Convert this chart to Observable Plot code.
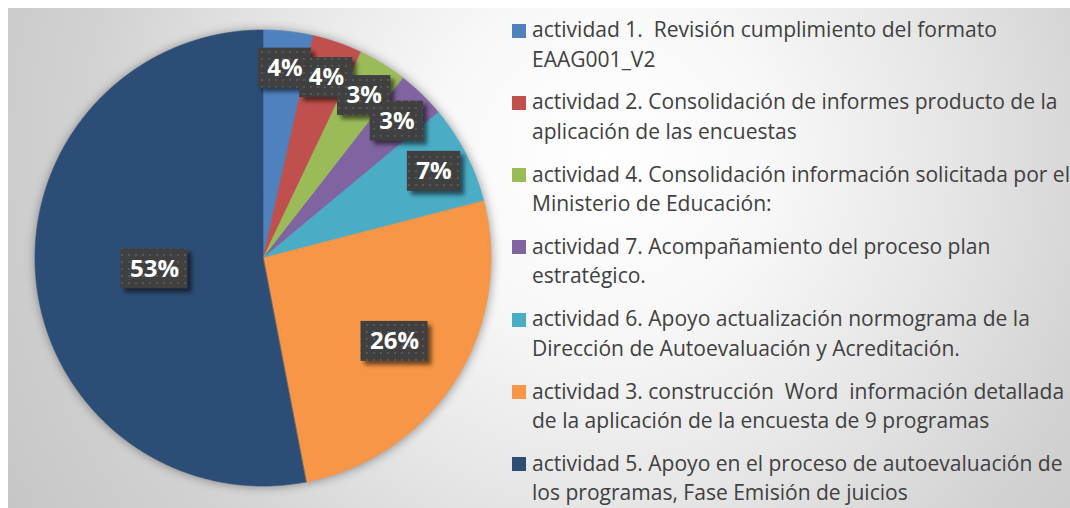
<!DOCTYPE html>
<html>
<head>
<meta charset="utf-8">
<script src="https://cdn.jsdelivr.net/npm/d3@7"></script>
<script src="https://cdn.jsdelivr.net/npm/@observablehq/plot@0.6"></script>
<style>
  html, body { margin: 0; padding: 0; background: #ffffff; }
  body { position: relative; width: 1070px; height: 508px; overflow: hidden; }
  #frame {
    position: absolute; left: 8px; top: 8px; width: 1062px; height: 500px;
    background: radial-gradient(circle farthest-corner at 56% 30%, #ffffff 0%, #f8f8f8 24%, #e6e6e6 50%, #d2d2d2 75%, #c6c6c6 100%);
  }
  #chart { position: absolute; left: 0; top: 0; }
  #chart svg { overflow: visible; }
  #legend { position: absolute; left: 0; top: 0; font-family: "Open Sans", sans-serif; color: #404040; }
  .entry { position: absolute; left: 532px; white-space: pre; }
  .swatch { position: absolute; left: 512px; width: 14px; height: 14px; }
</style>
</head>
<body>
<div id="frame"></div>
<div id="chart"></div>
<div id="legend"></div>
<script>
// ---- data ----
const categories = [
  "actividad 1.  Revisión cumplimiento del formato\nEAAG001_V2",
  "actividad 2. Consolidación de informes producto de la\naplicación de las encuestas",
  "actividad 4. Consolidación información solicitada por el\nMinisterio de Educación:",
  "actividad 7. Acompañamiento del proceso plan\nestratégico.",
  "actividad 6. Apoyo actualización normograma de la\nDirección de Autoevaluación y Acreditación.",
  "actividad 3. construcción  Word  información detallada\nde la aplicación de la encuesta de 9 programas",
  "actividad 5. Apoyo en el proceso de autoevaluación de\nlos programas, Fase Emisión de juicios"
];
const values = [3.56, 3.52, 3.46, 3.44, 7.0, 26.0, 53.02];
const colors = ["#4F81BD", "#C0504D", "#9BBB59", "#8064A2", "#4BACC6", "#F79646", "#2C4D75"];

// ---- geometry (pie center 263,258; radius 228 px) ----
const R = 228, CX = 263, CY = 258;
const total = d3.sum(values);
const slicePts = [];
const labels = [];
const ctx = document.createElement("canvas").getContext("2d");
ctx.font = "bold 24px 'Open Sans'";
let acc = 0;
categories.forEach((c, i) => {
  const a0 = acc / total * 2 * Math.PI;
  acc += values[i];
  const a1 = acc / total * 2 * Math.PI;
  const n = Math.max(2, Math.ceil((a1 - a0) * 180 / Math.PI * 2));
  for (let k = 0; k <= n; k++) {
    const a = a0 + (a1 - a0) * k / n;
    slicePts.push({key: i, x: Math.sin(a), y: Math.cos(a), cx: 0, cy: 0});
  }
  const p = values[i] / total;
  const am = (a0 + a1) / 2;
  const rf = p < 0.1 ? 0.84 : p < 0.4 ? 0.68 : 0.48;
  const text = Math.round(p * 100) + "%";
  const w = (ctx.measureText(text).width + 18) / R / 2;
  const h = 20 / R;
  const x = rf * Math.sin(am), y = rf * Math.cos(am);
  labels.push({key: i, x, y, text, x1: x - w, x2: x + w, y1: y - h, y2: y + h});
});
const center = [{x: 0, y: 0}];

const plot = Plot.plot({
  width: 1070,
  height: 508,
  style: {background: "transparent"},
  x: {domain: [-1, 1], range: [CX - R, CX + R], axis: null},
  y: {domain: [-1, 1], range: [CY + R, CY - R], axis: null},
  color: {type: "ordinal", domain: d3.range(categories.length), range: colors},
  marks: [
    Plot.dot(center, {x: "x", y: "y", r: R + 1, fill: "#000", fillOpacity: 0.35, stroke: "none"}),
    Plot.area(slicePts, {x1: "x", y1: "y", x2: "cx", y2: "cy", z: "key", fill: "key", stroke: "key", strokeWidth: 0.6}),
    Plot.rect(labels, {x1: "x1", x2: "x2", y1: "y1", y2: "y2", dx: 4, dy: 4, fill: "#000", fillOpacity: 0.55}),
    Plot.rect(labels, {x1: "x1", x2: "x2", y1: "y1", y2: "y2", fill: "url(#dots)"}),
    Plot.text(labels, {x: "x", y: "y", text: "text", fill: "white", fontSize: 24, fontWeight: "bold", fontFamily: "Open Sans"})
  ]
});
const defs = document.createElementNS("http://www.w3.org/2000/svg", "defs");
defs.innerHTML = `<pattern id="dots" width="7" height="7" patternUnits="userSpaceOnUse">
  <rect width="7" height="7" fill="#404040"></rect>
  <rect x="2" y="2" width="2" height="2" fill="#575757"></rect>
</pattern>
<filter id="pieBlur" x="-20%" y="-20%" width="140%" height="140%"><feGaussianBlur stdDeviation="5"></feGaussianBlur></filter>
<filter id="boxBlur" x="-30%" y="-30%" width="160%" height="160%"><feGaussianBlur stdDeviation="2"></feGaussianBlur></filter>`;
plot.insertBefore(defs, plot.firstChild);
const dotG = plot.querySelector('g[aria-label="dot"]');
if (dotG) dotG.setAttribute("filter", "url(#pieBlur)");
const rectGs = plot.querySelectorAll('g[aria-label="rect"]');
if (rectGs.length) rectGs[0].setAttribute("filter", "url(#boxBlur)");
document.getElementById("chart").appendChild(plot);

// ---- legend ----
const legend = document.getElementById("legend");
const fitCtx = document.createElement("canvas").getContext("2d");
fitCtx.font = "100px 'Open Sans'";
const firstLine = categories[0].split("\n")[0];
const fs = 465 / fitCtx.measureText(firstLine).width * 100;
categories.forEach((c, i) => {
  const top = 15 + i * 72.3;
  const e = document.createElement("div");
  e.className = "entry";
  e.style.top = top + "px";
  e.style.fontSize = fs + "px";
  e.style.lineHeight = "29.5px";
  e.textContent = c;
  legend.appendChild(e);
  const s = document.createElement("div");
  s.className = "swatch";
  s.style.top = (top + 8.5) + "px";
  s.style.background = colors[i];
  legend.appendChild(s);
});
</script>
</body>
</html>
